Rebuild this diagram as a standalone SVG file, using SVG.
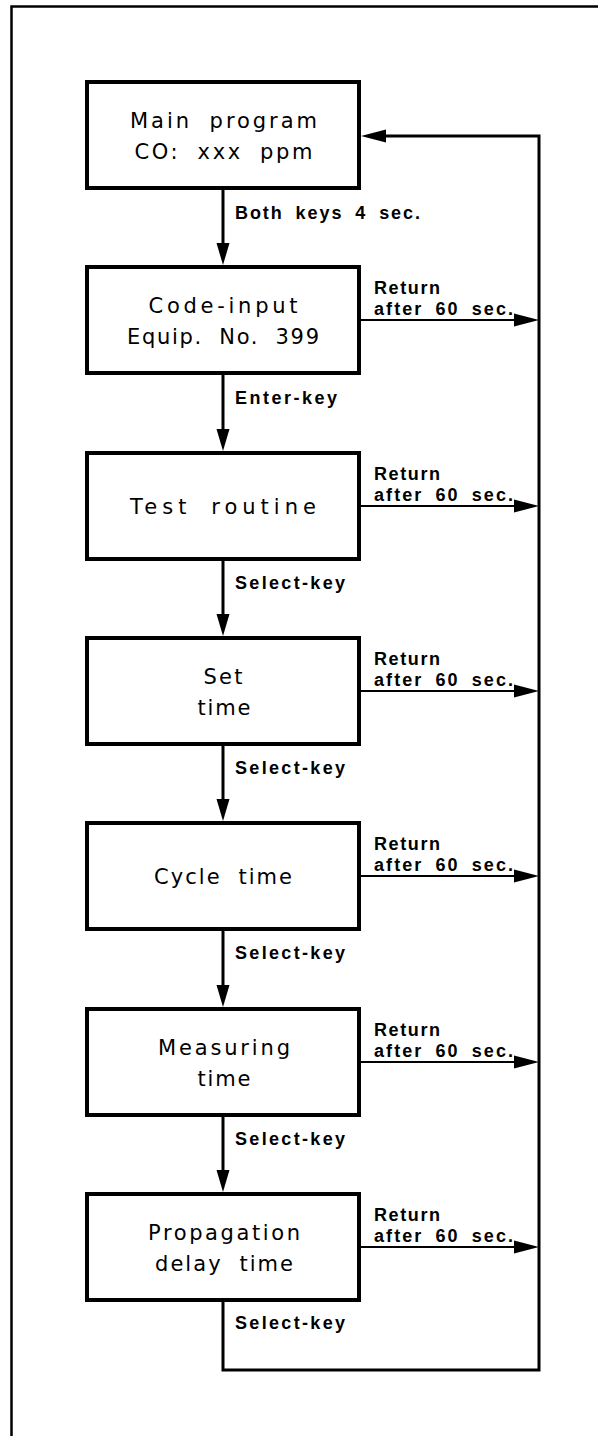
<svg xmlns="http://www.w3.org/2000/svg" width="598" height="1436" viewBox="0 0 598 1436">
<style>
.box{fill:#fff;stroke:#000;stroke-width:4}
.bt{font-family:"DejaVu Sans","Liberation Sans",sans-serif;font-size:21px;fill:#000;text-anchor:middle;word-spacing:8px}
.lb{font-family:"Liberation Sans",Arial,sans-serif;font-size:18px;font-weight:bold;fill:#000;word-spacing:5px}
.ln{fill:none;stroke:#000;stroke-width:3}
.rl{fill:none;stroke:#000;stroke-width:2.2}
.ah{fill:#000;stroke:none}
</style>
<rect width="598" height="1436" fill="#fff"/>
<path d="M598,6.5 H11.5 V1436" fill="none" stroke="#000" stroke-width="2.5"/>

<g id="connectors">
  <line class="ln" x1="223" y1="190" x2="223" y2="245"/>
  <polygon class="ah" points="223,265 216.5,243 229.5,243"/>
  <line class="ln" x1="223" y1="375" x2="223" y2="431"/>
  <polygon class="ah" points="223,451 216.5,429 229.5,429"/>
  <line class="ln" x1="223" y1="561" x2="223" y2="616"/>
  <polygon class="ah" points="223,636 216.5,614 229.5,614"/>
  <line class="ln" x1="223" y1="746" x2="223" y2="801"/>
  <polygon class="ah" points="223,821 216.5,799 229.5,799"/>
  <line class="ln" x1="223" y1="931" x2="223" y2="987"/>
  <polygon class="ah" points="223,1007 216.5,985 229.5,985"/>
  <line class="ln" x1="223" y1="1117" x2="223" y2="1172"/>
  <polygon class="ah" points="223,1192 216.5,1170 229.5,1170"/>
  <polyline class="ln" points="223,1302 223,1370 539,1370 539,136 383,136"/>
  <polygon class="ah" points="361,136 386,129.5 386,142.5"/>
  <line class="rl" x1="361" y1="320" x2="517" y2="320"/>
  <polygon class="ah" points="539,320 514,313.5 514,326.5"/>
  <line class="rl" x1="361" y1="506" x2="517" y2="506"/>
  <polygon class="ah" points="539,506 514,499.5 514,512.5"/>
  <line class="rl" x1="361" y1="691" x2="517" y2="691"/>
  <polygon class="ah" points="539,691 514,684.5 514,697.5"/>
  <line class="rl" x1="361" y1="876" x2="517" y2="876"/>
  <polygon class="ah" points="539,876 514,869.5 514,882.5"/>
  <line class="rl" x1="361" y1="1062" x2="517" y2="1062"/>
  <polygon class="ah" points="539,1062 514,1055.5 514,1068.5"/>
  <line class="rl" x1="361" y1="1247" x2="517" y2="1247"/>
  <polygon class="ah" points="539,1247 514,1240.5 514,1253.5"/>
  <text class="lb" x="235" y="219" textLength="185" lengthAdjust="spacing">Both keys 4 sec.</text>
  <text class="lb" x="235" y="404" textLength="102" lengthAdjust="spacing">Enter-key</text>
  <text class="lb" x="235" y="589" textLength="110" lengthAdjust="spacing">Select-key</text>
  <text class="lb" x="235" y="774" textLength="110" lengthAdjust="spacing">Select-key</text>
  <text class="lb" x="235" y="959" textLength="110" lengthAdjust="spacing">Select-key</text>
  <text class="lb" x="235" y="1145" textLength="110" lengthAdjust="spacing">Select-key</text>
  <text class="lb" x="235" y="1329" textLength="110" lengthAdjust="spacing">Select-key</text>
  <text class="lb" x="374" y="294" textLength="66" lengthAdjust="spacing">Return</text>
  <text class="lb" x="374" y="315" textLength="139" lengthAdjust="spacing">after 60 sec.</text>
  <text class="lb" x="374" y="480" textLength="66" lengthAdjust="spacing">Return</text>
  <text class="lb" x="374" y="501" textLength="139" lengthAdjust="spacing">after 60 sec.</text>
  <text class="lb" x="374" y="665" textLength="66" lengthAdjust="spacing">Return</text>
  <text class="lb" x="374" y="686" textLength="139" lengthAdjust="spacing">after 60 sec.</text>
  <text class="lb" x="374" y="850" textLength="66" lengthAdjust="spacing">Return</text>
  <text class="lb" x="374" y="871" textLength="139" lengthAdjust="spacing">after 60 sec.</text>
  <text class="lb" x="374" y="1036" textLength="66" lengthAdjust="spacing">Return</text>
  <text class="lb" x="374" y="1057" textLength="139" lengthAdjust="spacing">after 60 sec.</text>
  <text class="lb" x="374" y="1221" textLength="66" lengthAdjust="spacing">Return</text>
  <text class="lb" x="374" y="1242" textLength="139" lengthAdjust="spacing">after 60 sec.</text>
</g>

<g id="main-program">
  <rect class="box" x="87" y="82" width="272" height="106"/>
  <text class="bt" x="223.5" y="128" textLength="187" lengthAdjust="spacing">Main program</text>
  <text class="bt" x="223.5" y="159" textLength="178" lengthAdjust="spacing">CO: xxx ppm</text>
</g>
<g id="code-input">
  <rect class="box" x="87" y="267" width="272" height="106"/>
  <text class="bt" x="223" y="313" textLength="149" lengthAdjust="spacing">Code-input</text>
  <text class="bt" x="223" y="344" textLength="192" lengthAdjust="spacing">Equip. No. 399</text>
</g>
<g id="test-routine">
  <rect class="box" x="87" y="453" width="272" height="106"/>
  <text class="bt" x="223" y="514" textLength="186" lengthAdjust="spacing">Test routine</text>
</g>
<g id="set-time">
  <rect class="box" x="87" y="638" width="272" height="106"/>
  <text class="bt" x="223" y="684" textLength="39" lengthAdjust="spacing">Set</text>
  <text class="bt" x="224" y="715" textLength="53" lengthAdjust="spacing">time</text>
</g>
<g id="cycle-time">
  <rect class="box" x="87" y="823" width="272" height="106"/>
  <text class="bt" x="223" y="884" textLength="138" lengthAdjust="spacing">Cycle time</text>
</g>
<g id="measuring-time">
  <rect class="box" x="87" y="1009" width="272" height="106"/>
  <text class="bt" x="224" y="1055" textLength="132" lengthAdjust="spacing">Measuring</text>
  <text class="bt" x="224" y="1086" textLength="53" lengthAdjust="spacing">time</text>
</g>
<g id="propagation-delay-time">
  <rect class="box" x="87" y="1194" width="272" height="106"/>
  <text class="bt" x="224" y="1240" textLength="152" lengthAdjust="spacing">Propagation</text>
  <text class="bt" x="224" y="1271" textLength="138" lengthAdjust="spacing">delay time</text>
</g>
</svg>
